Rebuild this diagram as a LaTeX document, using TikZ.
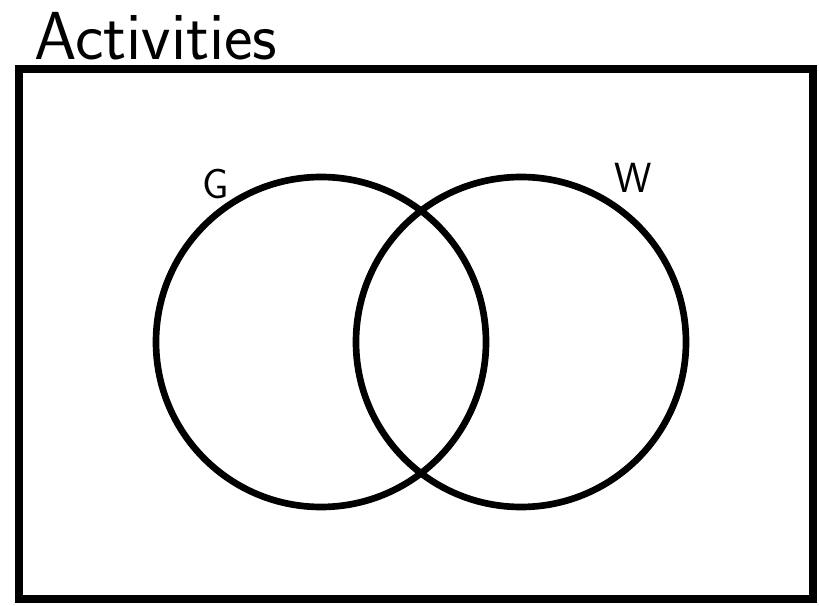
\documentclass[tikz,border=0pt]{standalone}
\begin{document}
\begin{tikzpicture}[x=0.3mm,y=-0.3mm]
\tikzset{set/.style={draw,circle,line width=2mm,minimum size=99mm,inner sep=0pt},
         setname/.style={font=\sffamily\fontsize{36}{38}\selectfont}}
\useasboundingbox (0,0) rectangle (819,606);
\node[font=\sffamily\fontsize{58}{60}\selectfont,anchor=base west,inner sep=0pt] (title) at (34,60) {Activities};
\draw[line width=2.4mm] (19,69) rectangle (813,599);

\node[set] (g) at (321,342) {};
\node[set] (w) at (521,342) {};

\node[setname] (gname) at (216,184) {G};
\node[setname] (wname) at (633,178) {W};
\end{tikzpicture}
\end{document}
